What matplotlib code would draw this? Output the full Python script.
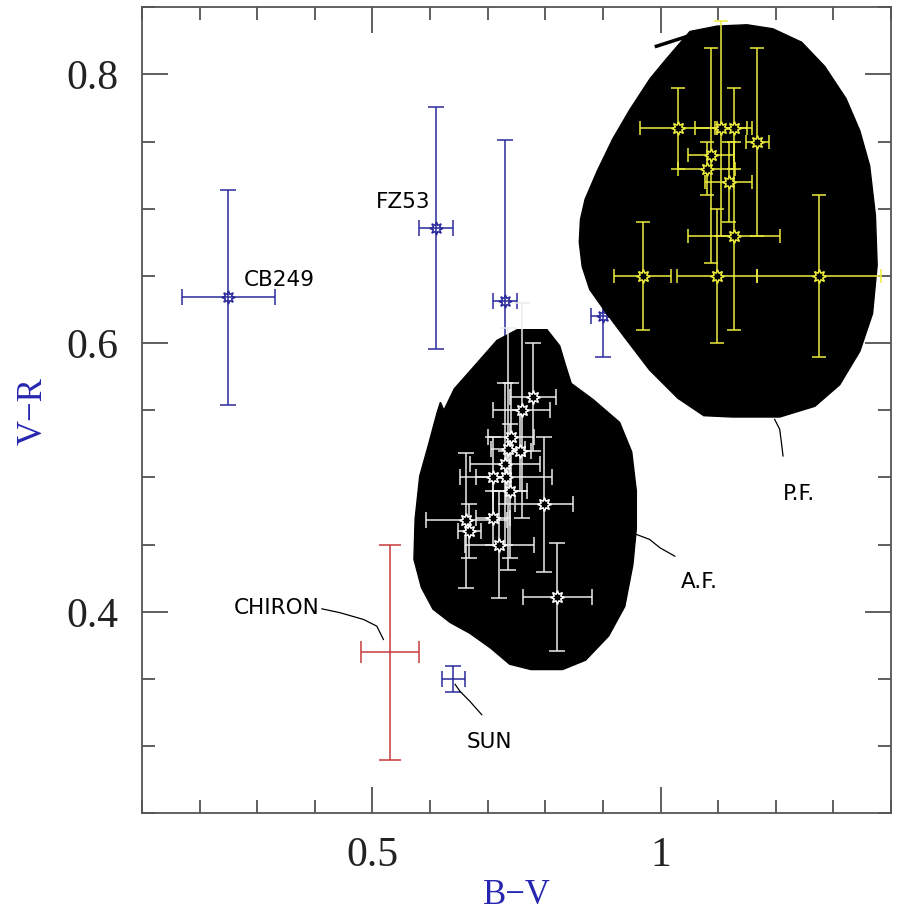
import numpy as np
import matplotlib
matplotlib.use("Agg")
import matplotlib.pyplot as plt
from matplotlib.patches import Polygon
from matplotlib.ticker import MultipleLocator, FuncFormatter

# field objects (blue), Chiron (red)
field_names = ["CB249", "FZ53", "", "", "SUN"]
field_bv = [0.25, 0.61, 0.73, 0.90, 0.64]
field_vr = [0.634, 0.686, 0.631, 0.620, 0.350]
field_bv_err = [0.08, 0.03, 0.02, 0.02, 0.02]
field_vr_err = [0.08, 0.09, 0.12, 0.03, 0.01]

chiron_bv = [0.53]
chiron_vr = [0.37]
chiron_bv_err = [0.05]
chiron_vr_err = [0.08]

# A.F. sample (white)
af_bv = [0.778, 0.759, 0.740, 0.735, 0.756, 0.730, 0.709, 0.732, 0.739,
         0.798, 0.709, 0.663, 0.668, 0.720, 0.821]
af_vr = [0.560, 0.550, 0.530, 0.521, 0.520, 0.510, 0.500, 0.500, 0.490,
         0.480, 0.470, 0.468, 0.460, 0.450, 0.411]
af_bv_err = [0.04, 0.05, 0.04, 0.03, 0.02, 0.06, 0.03, 0.08, 0.03,
             0.05, 0.03, 0.07, 0.02, 0.06, 0.06]
af_vr_err = [0.04, 0.08, 0.04, 0.09, 0.03, 0.06, 0.03, 0.02, 0.05,
             0.05, 0.02, 0.05, 0.02, 0.04, 0.04]

# P.F. sample (yellow)
pf_bv = [1.030, 1.105, 1.128, 1.168, 1.088, 1.080, 1.118, 1.128, 0.969, 1.098, 1.275]
pf_vr = [0.760, 0.760, 0.760, 0.750, 0.740, 0.730, 0.720, 0.680, 0.650, 0.650, 0.650]
pf_bv_err = [0.065, 0.045, 0.03, 0.02, 0.04, 0.05, 0.04, 0.08, 0.05, 0.07, 0.107]
pf_vr_err = [0.03, 0.08, 0.03, 0.07, 0.08, 0.02, 0.03, 0.07, 0.04, 0.05, 0.06]

# region outlines (B-V, V-R)
af_region = [(0.751, 0.610), (0.803, 0.610), (0.825, 0.598), (0.834, 0.585),
             (0.845, 0.570), (0.883, 0.558), (0.929, 0.541), (0.950, 0.519),
             (0.958, 0.490), (0.958, 0.462), (0.952, 0.435), (0.938, 0.404),
             (0.910, 0.382), (0.870, 0.364), (0.830, 0.357), (0.775, 0.357),
             (0.738, 0.361), (0.705, 0.373), (0.669, 0.384), (0.635, 0.392),
             (0.605, 0.402), (0.585, 0.418), (0.572, 0.439), (0.574, 0.469),
             (0.582, 0.501), (0.597, 0.524), (0.612, 0.548), (0.618, 0.556),
             (0.624, 0.550), (0.642, 0.566), (0.675, 0.582), (0.716, 0.602)]
pf_region = [(1.098, 0.836), (1.051, 0.832), (1.011, 0.812), (0.982, 0.797),
             (0.947, 0.774), (0.917, 0.752), (0.890, 0.728), (0.869, 0.707),
             (0.861, 0.692), (0.859, 0.675), (0.864, 0.657), (0.877, 0.640),
             (0.905, 0.623), (0.940, 0.603), (0.981, 0.580), (1.030, 0.559),
             (1.075, 0.546), (1.125, 0.545), (1.207, 0.545), (1.268, 0.553),
             (1.311, 0.569), (1.346, 0.594), (1.368, 0.622), (1.376, 0.658),
             (1.373, 0.695), (1.363, 0.732), (1.346, 0.758), (1.322, 0.782),
             (1.285, 0.806), (1.245, 0.824), (1.195, 0.834), (1.150, 0.837)]
pf_spur = [(0.990, 0.8206), (1.077, 0.8326)]

# labels and their leader lines
labels = ["CB249", "FZ53", "CHIRON", "SUN", "A.F.", "P.F."]
label_pos = [(0.276, 0.647), (0.5065, 0.705), (0.260, 0.4025),
             (0.664, 0.3033), (1.035, 0.4224), (1.212, 0.488)]
leaders = [
    [(0.4123, 0.4022), (0.444, 0.3993), (0.4844, 0.3943), (0.5076, 0.3893), (0.519, 0.3794)],
    [(0.6434, 0.346), (0.652, 0.3408), (0.669, 0.3334), (0.6897, 0.3234)],
    [(0.958, 0.4576), (0.981, 0.4539), (0.9988, 0.4477), (1.0248, 0.4414)],
    [(1.198, 0.5433), (1.2068, 0.5359), (1.2098, 0.526), (1.2126, 0.516)],
]

blue = "#2a2a9c"
yellow = "#ecec3c"
white = "#ececec"
red = "#c83a3a"
cog = (8, 1, 0)

fig = plt.figure(figsize=(8.99, 9.14), dpi=100)
ax = fig.add_axes([142 / 899, 100.7 / 914, 749 / 899, 806 / 914])

ax.errorbar(field_bv, field_vr, xerr=field_bv_err, yerr=field_vr_err, fmt="none",
            ecolor=blue, elinewidth=1.1, capsize=6, capthick=1.1, zorder=2)
ax.plot(field_bv[:4], field_vr[:4], ls="none", marker=cog, ms=9.5, mfc="none",
        mec=blue, mew=1.1, zorder=2)
ax.errorbar(chiron_bv, chiron_vr, xerr=chiron_bv_err, yerr=chiron_vr_err, fmt="none",
            ecolor=red, elinewidth=1.1, capsize=8, capthick=1.1, zorder=2)

ax.add_patch(Polygon(af_region, closed=True, fc="black", ec="black", lw=1, zorder=3))
ax.add_patch(Polygon(pf_region, closed=True, fc="black", ec="black", lw=1, zorder=3))
sx, sy = zip(*pf_spur)
ax.plot(sx, sy, color="black", lw=2.5, solid_capstyle="butt", zorder=3)

ax.errorbar(af_bv, af_vr, xerr=af_bv_err, yerr=af_vr_err, fmt="none",
            ecolor=white, elinewidth=1.1, capsize=5.5, capthick=1.1, zorder=4)
ax.plot(af_bv, af_vr, ls="none", marker=cog, ms=10, mfc="black", mec="white",
        mew=1.1, zorder=5)
ax.errorbar(pf_bv, pf_vr, xerr=pf_bv_err, yerr=pf_vr_err, fmt="none",
            ecolor=yellow, elinewidth=1.1, capsize=5, capthick=1.1, zorder=4)
ax.plot(pf_bv, pf_vr, ls="none", marker=cog, ms=10, mfc="black", mec=yellow,
        mew=1.1, zorder=5)

for name, (tx, ty) in zip(labels, label_pos):
    ax.text(tx, ty, name, fontsize=15.5, family="DejaVu Sans", ha="left",
            va="center", color="black", zorder=6)
for line in leaders:
    lx, ly = zip(*line)
    ax.plot(lx, ly, color="black", lw=0.9, zorder=6)

ax.set_xlim(0.1, 1.4)
ax.set_ylim(0.25, 0.85)
ax.xaxis.set_major_locator(MultipleLocator(0.5))
ax.xaxis.set_minor_locator(MultipleLocator(0.1))
ax.yaxis.set_major_locator(MultipleLocator(0.2))
ax.yaxis.set_minor_locator(MultipleLocator(0.05))
ax.xaxis.set_major_formatter(FuncFormatter(lambda v, p: "%g" % v))
ax.yaxis.set_major_formatter(FuncFormatter(lambda v, p: "%g" % v))
ax.tick_params(which="both", direction="in", top=True, right=True,
               color="#333333", width=1.1)
ax.tick_params(which="major", length=19, pad=17, labelsize=30)
ax.tick_params(which="minor", length=9.5)
for lab in ax.get_xticklabels() + ax.get_yticklabels():
    lab.set_family("Liberation Serif")
    lab.set_color("#222222")
for sp in ax.spines.values():
    sp.set_color("#555555")
    sp.set_linewidth(1.3)

fig.text(516.7 / 899, 1 - 895 / 914, "B\u2212V", family="Liberation Serif",
         fontsize=25, color="#2626b0", ha="center", va="center")
fig.text(33 / 899, 1 - 411 / 914, "V\u2212R", family="Liberation Serif",
         fontsize=25, color="#2626b0", ha="center", va="center", rotation=90)

fig.savefig("out.png", dpi=100)
